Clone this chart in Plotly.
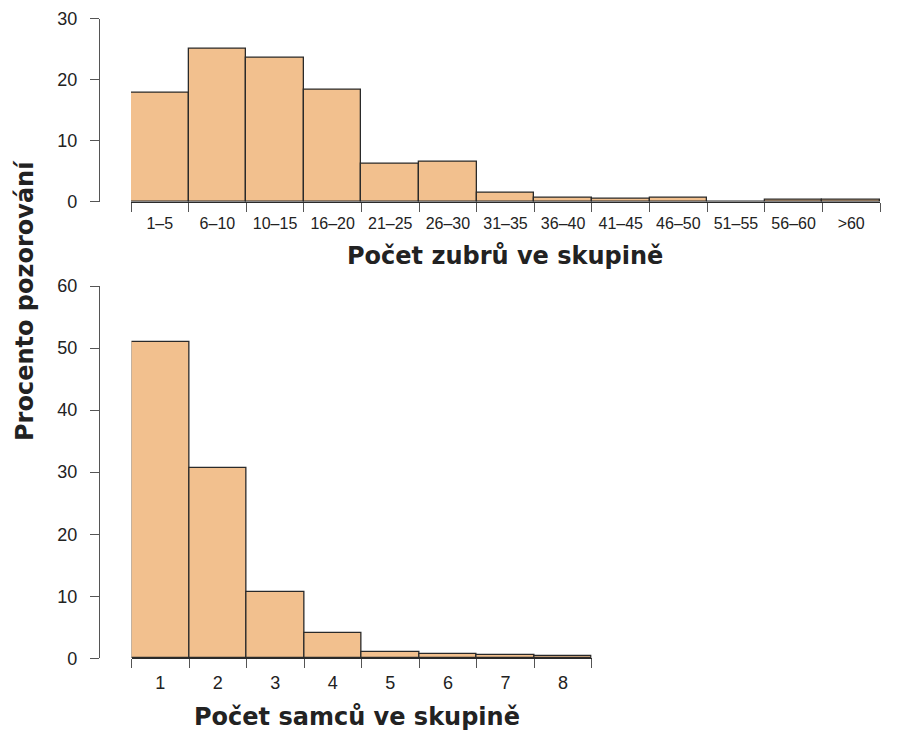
import plotly.graph_objects as go

# Data
group_labels = ["1–5", "6–10", "10–15", "16–20", "21–25", "26–30", "31–35",
                "36–40", "41–45", "46–50", "51–55", "56–60", ">60"]
group_pct = [17.9, 25.1, 23.6, 18.3, 6.2, 6.6, 1.4, 0.7, 0.45, 0.6, 0.0, 0.3, 0.3]

male_labels = ["1", "2", "3", "4", "5", "6", "7", "8"]
male_pct = [51.0, 30.6, 10.7, 4.1, 1.0, 0.7, 0.55, 0.3]

y_title = "Procento pozorování"
x_title_top = "Počet zubrů ve skupině"
x_title_bot = "Počet samců ve skupině"

W, H = 897, 733
FILL = "#F2C08E"
EDGE = "#2a2a2a"
AX = "#555555"
TXT = "#222222"
FONT = "Liberation Sans, Arial, sans-serif"
TFONT = "DejaVu Sans, sans-serif"

fig = go.Figure()
fig.add_trace(go.Bar(x=group_labels, y=group_pct, xaxis="x", yaxis="y",
                     marker=dict(color=FILL, line=dict(color=EDGE, width=1.3)),
                     showlegend=False, hoverinfo="x+y"))
fig.add_trace(go.Bar(x=male_labels, y=male_pct, xaxis="x2", yaxis="y2",
                     marker=dict(color=FILL, line=dict(color=EDGE, width=1.3)),
                     showlegend=False, hoverinfo="x+y"))

def px_x(p):
    return p / W

def px_y(p):
    return 1 - p / H

xcommon = dict(type="category", tickson="boundaries", ticks="outside", ticklen=9,
               tickwidth=1.2, tickcolor=AX, showline=True, linecolor=EDGE, linewidth=1.2,
               showgrid=False, zeroline=False, fixedrange=True, automargin=False)
ycommon = dict(ticks="outside", ticklen=9, tickwidth=1.2, tickcolor=AX, showline=True,
               linecolor=AX, linewidth=1.2, showgrid=False, zeroline=False,
               anchor="free", position=px_x(99), fixedrange=True, automargin=False,
               ticklabelstandoff=9,
               tickfont=dict(size=18, color=TXT, family=FONT))

ann = dict(xref="paper", yref="paper", showarrow=False, xanchor="center", yanchor="middle")

fig.update_layout(
    width=W, height=H, margin=dict(l=0, r=0, t=0, b=0, autoexpand=False),
    plot_bgcolor="white", paper_bgcolor="white", bargap=0,
    font=dict(family=FONT, color=TXT),
    xaxis=dict(domain=[px_x(131), px_x(880)], anchor="y", ticklabelstandoff=7,
               tickfont=dict(size=16, color=TXT, family=FONT), **xcommon),
    yaxis=dict(domain=[px_y(201.7), px_y(18.7)], range=[0, 30],
               tickvals=[0, 10, 20, 30], **ycommon),
    xaxis2=dict(domain=[px_x(131.5), px_x(591.7)], anchor="y2", ticklabelstandoff=8,
                tickfont=dict(size=18, color=TXT, family=FONT), **xcommon),
    yaxis2=dict(domain=[px_y(658.3), px_y(286)], range=[0, 60],
                tickvals=[0, 10, 20, 30, 40, 50, 60], **ycommon),
    annotations=[
        dict(text=f"<b>{x_title_top}</b>", x=px_x(505), y=px_y(256),
             font=dict(size=24, color=TXT, family=TFONT), **ann),
        dict(text=f"<b>{x_title_bot}</b>", x=px_x(357), y=px_y(717),
             font=dict(size=24, color=TXT, family=TFONT), **ann),
        dict(text=f"<b>{y_title}</b>", x=px_x(25), y=px_y(301), textangle=-90,
             font=dict(size=24, color=TXT, family=TFONT), **ann),
    ],
)

fig.write_html("out.html", config={"displayModeBar": False},
               post_script="document.body.style.margin='0';")
